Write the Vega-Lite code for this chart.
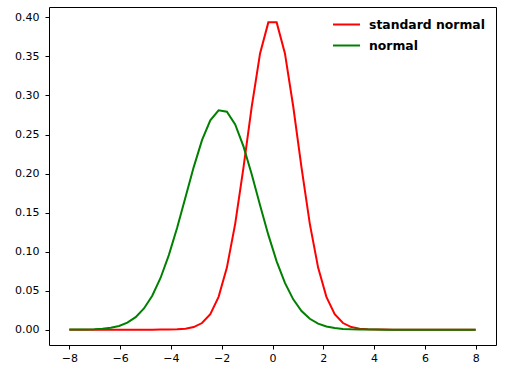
{
  "$schema": "https://vega.github.io/schema/vega-lite/v6.json",
  "width": 447,
  "height": 338,
  "autosize": {"type": "none"},
  "padding": {"left": 49, "top": 7, "right": 16, "bottom": 26},
  "background": "white",
  "config": {
    "view": {"stroke": "black", "strokeWidth": 1},
    "axis": {"domain": false, "grid": false, "tickColor": "black", "tickSize": 4, "labelColor": "black", "labelFont": "DejaVu Sans", "labelFontSize": 11, "labelPadding": 3, "title": null},
    "legend": {"labelFont": "DejaVu Sans", "labelFontWeight": "bold", "labelFontSize": 12.4, "labelColor": "black"}
  },
  "data": {"values": [
    {"x": -8.0000, "standard normal": 0, "normal": 0.0000348},
    {"x": -7.6735, "standard normal": 0, "normal": 0.0000903},
    {"x": -7.3469, "standard normal": 0, "normal": 0.000222},
    {"x": -7.0204, "standard normal": 0, "normal": 0.0005175},
    {"x": -6.6939, "standard normal": 0, "normal": 0.0011434},
    {"x": -6.3673, "standard normal": 0, "normal": 0.0023963},
    {"x": -6.0408, "standard normal": 0, "normal": 0.00476},
    {"x": -5.7143, "standard normal": 0, "normal": 0.0089641},
    {"x": -5.3878, "standard normal": 0.0000002, "normal": 0.016006},
    {"x": -5.0612, "standard normal": 0.0000011, "normal": 0.0271},
    {"x": -4.7347, "standard normal": 0.0000054, "normal": 0.043495},
    {"x": -4.4082, "standard normal": 0.0000241, "normal": 0.066177},
    {"x": -4.0816, "standard normal": 0.0000962, "normal": 0.095482},
    {"x": -3.7551, "standard normal": 0.0003459, "normal": 0.130601},
    {"x": -3.4286, "standard normal": 0.0011176, "normal": 0.169359},
    {"x": -3.1020, "standard normal": 0.0032466, "normal": 0.208231},
    {"x": -2.7755, "standard normal": 0.008475, "normal": 0.242716},
    {"x": -2.4490, "standard normal": 0.019886, "normal": 0.26823},
    {"x": -2.1224, "standard normal": 0.04195, "normal": 0.281041},
    {"x": -1.7959, "standard normal": 0.07953, "normal": 0.279172},
    {"x": -1.4694, "standard normal": 0.13554, "normal": 0.262923},
    {"x": -1.1429, "standard normal": 0.20761, "normal": 0.234764},
    {"x": -0.8163, "standard normal": 0.2859, "normal": 0.198731},
    {"x": -0.4898, "standard normal": 0.35385, "normal": 0.159502},
    {"x": -0.1633, "standard normal": 0.39366, "normal": 0.121374},
    {"x": 0.1633, "standard normal": 0.39366, "normal": 0.087555},
    {"x": 0.4898, "standard normal": 0.35385, "normal": 0.059887},
    {"x": 0.8163, "standard normal": 0.2859, "normal": 0.038836},
    {"x": 1.1429, "standard normal": 0.20761, "normal": 0.023874},
    {"x": 1.4694, "standard normal": 0.13554, "normal": 0.013916},
    {"x": 1.7959, "standard normal": 0.07953, "normal": 0.0076907},
    {"x": 2.1224, "standard normal": 0.04195, "normal": 0.0040296},
    {"x": 2.4490, "standard normal": 0.019886, "normal": 0.0020014},
    {"x": 2.7755, "standard normal": 0.008475, "normal": 0.0009426},
    {"x": 3.1020, "standard normal": 0.0032466, "normal": 0.0004209},
    {"x": 3.4286, "standard normal": 0.0011176, "normal": 0.0001781},
    {"x": 3.7551, "standard normal": 0.0003459, "normal": 0.0000715},
    {"x": 4.0816, "standard normal": 0.0000962, "normal": 0.0000272},
    {"x": 4.4082, "standard normal": 0.0000241, "normal": 0.0000098},
    {"x": 4.7347, "standard normal": 0.0000054, "normal": 0.0000034},
    {"x": 5.0612, "standard normal": 0.0000011, "normal": 0.0000011},
    {"x": 5.3878, "standard normal": 0.0000002, "normal": 0.0000003},
    {"x": 5.7143, "standard normal": 0, "normal": 0.0000001},
    {"x": 6.0408, "standard normal": 0, "normal": 0},
    {"x": 6.3673, "standard normal": 0, "normal": 0},
    {"x": 6.6939, "standard normal": 0, "normal": 0},
    {"x": 7.0204, "standard normal": 0, "normal": 0},
    {"x": 7.3469, "standard normal": 0, "normal": 0},
    {"x": 7.6735, "standard normal": 0, "normal": 0},
    {"x": 8.0000, "standard normal": 0, "normal": 0}
  ]},
  "transform": [{"fold": ["standard normal", "normal"], "as": ["series", "y"]}],
  "mark": {"type": "line", "strokeWidth": 2, "clip": true},
  "encoding": {
    "x": {"field": "x", "type": "quantitative", "scale": {"domain": [-8.8, 8.8], "nice": false, "zero": false},
      "axis": {"values": [-8, -6, -4, -2, 0, 2, 4, 6, 8], "labelExpr": "replace(format(datum.value, 'd'), '-', '\u2212')"}},
    "y": {"field": "y", "type": "quantitative", "scale": {"domain": [-0.01968, 0.41335], "nice": false, "zero": false},
      "axis": {"values": [0, 0.05, 0.1, 0.15, 0.2, 0.25, 0.3, 0.35, 0.4], "format": ".2f", "labelPadding": 6}},
    "color": {"field": "series", "type": "nominal",
      "scale": {"domain": ["standard normal", "normal"], "range": ["#ff0000", "#008000"]},
      "legend": {"title": null, "orient": "none", "legendX": 283, "legendY": 3, "symbolType": "stroke", "symbolStrokeWidth": 2, "symbolSize": 729, "labelOffset": 8, "rowPadding": -8, "padding": 0}},
    "order": {"field": "x", "type": "quantitative"}
  }
}
